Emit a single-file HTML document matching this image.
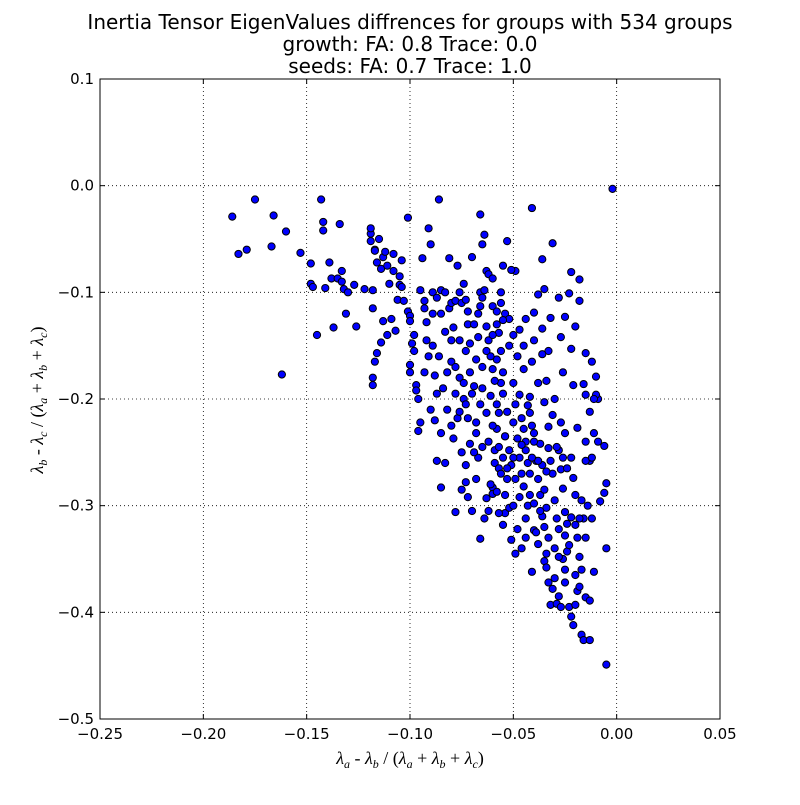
<!DOCTYPE html>
<html><head><meta charset="utf-8"><style>
body{margin:0;background:#fff}
svg{font-family:"DejaVu Sans","Liberation Sans",sans-serif}
</style></head><body>
<svg id="c" width="800" height="800">
<rect width="800" height="800" fill="#fff"/>
<text x="410" y="29" font-size="20" text-anchor="middle">Inertia Tensor EigenValues diffrences for groups with 534 groups</text>
<text x="410" y="51" font-size="20" text-anchor="middle">growth: FA: 0.8 Trace: 0.0</text>
<text x="410" y="73" font-size="20" text-anchor="middle">seeds: FA: 0.7 Trace: 1.0</text>
<g id="grid"></g>
<g id="pts"></g>
<rect x="100" y="79" width="620" height="640" fill="none" stroke="#000" stroke-width="1"/>
<g id="ticks"></g>
<text x="410" y="764" font-size="18" font-family="Liberation Serif,serif" text-anchor="middle"><tspan font-style="italic">λ</tspan><tspan font-size="12" dy="4" font-style="italic">a</tspan><tspan dy="-4"> - </tspan><tspan font-style="italic">λ</tspan><tspan font-size="12" dy="4" font-style="italic">b</tspan><tspan dy="-4"> / (</tspan><tspan font-style="italic">λ</tspan><tspan font-size="12" dy="4" font-style="italic">a</tspan><tspan dy="-4"> + </tspan><tspan font-style="italic">λ</tspan><tspan font-size="12" dy="4" font-style="italic">b</tspan><tspan dy="-4"> + </tspan><tspan font-style="italic">λ</tspan><tspan font-size="12" dy="4" font-style="italic">c</tspan><tspan dy="-4">)</tspan></text>
<text transform="translate(43,400) rotate(-90)" font-size="18" font-family="Liberation Serif,serif" text-anchor="middle"><tspan font-style="italic">λ</tspan><tspan font-size="12" dy="4" font-style="italic">b</tspan><tspan dy="-4"> - </tspan><tspan font-style="italic">λ</tspan><tspan font-size="12" dy="4" font-style="italic">c</tspan><tspan dy="-4"> / (</tspan><tspan font-style="italic">λ</tspan><tspan font-size="12" dy="4" font-style="italic">a</tspan><tspan dy="-4"> + </tspan><tspan font-style="italic">λ</tspan><tspan font-size="12" dy="4" font-style="italic">b</tspan><tspan dy="-4"> + </tspan><tspan font-style="italic">λ</tspan><tspan font-size="12" dy="4" font-style="italic">c</tspan><tspan dy="-4">)</tspan></text>
</svg>
<script>
const xTicks=[-0.25,-0.20,-0.15,-0.10,-0.05,0.00,0.05];
const xTickLabels=["\u22120.25","\u22120.20","\u22120.15","\u22120.10","\u22120.05","0.00","0.05"];
const yTicks=[0.1,0.0,-0.1,-0.2,-0.3,-0.4,-0.5];
const yTickLabels=["0.1","0.0","\u22120.1","\u22120.2","\u22120.3","\u22120.4","\u22120.5"];
const pts=[[-0.186,-0.029],[-0.183,-0.064],[-0.179,-0.060],[-0.175,-0.013],[-0.166,-0.028],[-0.167,-0.057],[-0.160,-0.043],[-0.162,-0.177],[-0.153,-0.063],[-0.148,-0.073],[-0.148,-0.092],[-0.147,-0.095],[-0.145,-0.140],[-0.143,-0.013],[-0.142,-0.034],[-0.142,-0.042],[-0.141,-0.096],[-0.139,-0.072],[-0.138,-0.087],[-0.137,-0.133],[-0.135,-0.087],[-0.134,-0.036],[-0.133,-0.090],[-0.133,-0.080],[-0.132,-0.097],[-0.131,-0.120],[-0.130,-0.100],[-0.127,-0.093],[-0.126,-0.132],[-0.122,-0.097],[-0.119,-0.045],[-0.119,-0.040],[-0.119,-0.052],[-0.117,-0.060],[-0.117,-0.061],[-0.118,-0.098],[-0.118,-0.115],[-0.118,-0.180],[-0.118,-0.187],[-0.117,-0.165],[-0.116,-0.072],[-0.116,-0.157],[-0.115,-0.050],[-0.114,-0.078],[-0.114,-0.147],[-0.113,-0.067],[-0.113,-0.127],[-0.112,-0.062],[-0.111,-0.075],[-0.110,-0.092],[-0.111,-0.140],[-0.109,-0.125],[-0.108,-0.064],[-0.108,-0.080],[-0.107,-0.136],[-0.106,-0.107],[-0.105,-0.085],[-0.105,-0.093],[-0.104,-0.070],[-0.104,-0.095],[-0.103,-0.108],[-0.101,-0.118],[-0.101,-0.030],[-0.100,-0.122],[-0.100,-0.127],[-0.100,-0.168],[-0.100,-0.175],[-0.099,-0.148],[-0.098,-0.155],[-0.098,-0.140],[-0.097,-0.187],[-0.097,-0.192],[-0.096,-0.200],[-0.096,-0.230],[-0.095,-0.222],[-0.095,-0.098],[-0.094,-0.068],[-0.093,-0.108],[-0.093,-0.115],[-0.093,-0.175],[-0.092,-0.128],[-0.092,-0.145],[-0.091,-0.040],[-0.090,-0.055],[-0.089,-0.100],[-0.089,-0.120],[-0.088,-0.178],[-0.087,-0.258],[-0.087,-0.195],[-0.086,-0.013],[-0.085,-0.098],[-0.084,-0.190],[-0.083,-0.260],[-0.083,-0.137],[-0.082,-0.210],[-0.081,-0.115],[-0.081,-0.068],[-0.080,-0.110],[-0.080,-0.165],[-0.079,-0.133],[-0.079,-0.237],[-0.078,-0.108],[-0.077,-0.075],[-0.077,-0.218],[-0.076,-0.145],[-0.076,-0.180],[-0.075,-0.250],[-0.075,-0.110],[-0.074,-0.185],[-0.074,-0.200],[-0.073,-0.107],[-0.073,-0.155],[-0.072,-0.218],[-0.072,-0.130],[-0.071,-0.148],[-0.071,-0.175],[-0.070,-0.067],[-0.069,-0.188],[-0.068,-0.222],[-0.068,-0.163],[-0.068,-0.232],[-0.067,-0.142],[-0.067,-0.120],[-0.066,-0.100],[-0.066,-0.113],[-0.065,-0.105],[-0.065,-0.055],[-0.064,-0.046],[-0.064,-0.098],[-0.063,-0.132],[-0.063,-0.080],[-0.062,-0.083],[-0.062,-0.145],[-0.061,-0.197],[-0.060,-0.172],[-0.060,-0.113],[-0.060,-0.283],[-0.059,-0.260],[-0.059,-0.248],[-0.058,-0.228],[-0.058,-0.205],[-0.057,-0.265],[-0.057,-0.138],[-0.056,-0.185],[-0.056,-0.155],[-0.055,-0.195],[-0.055,-0.075],[-0.054,-0.120],[-0.054,-0.235],[-0.054,-0.307],
[-0.066,-0.331],[-0.064,-0.312],[-0.063,-0.293],[-0.062,-0.305],[-0.061,-0.280],[-0.060,-0.289],[-0.058,-0.287],[-0.057,-0.307],[-0.056,-0.270],[-0.055,-0.318],[-0.054,-0.290],[-0.053,-0.275],[-0.052,-0.302],[-0.051,-0.332],[-0.050,-0.300],[-0.049,-0.345],[-0.048,-0.322],[-0.047,-0.292],[-0.046,-0.340],[-0.045,-0.282],[-0.044,-0.330],[-0.043,-0.300],[-0.042,-0.270],[-0.041,-0.362],[-0.040,-0.323],[-0.039,-0.325],[-0.038,-0.336],[-0.037,-0.290],[-0.036,-0.310],[-0.035,-0.352],[-0.034,-0.358],[-0.033,-0.372],[-0.032,-0.393],[-0.031,-0.378],[-0.030,-0.368],[-0.029,-0.392],[-0.028,-0.385],[-0.027,-0.395],[-0.026,-0.350],[-0.025,-0.372],[-0.024,-0.343],[-0.023,-0.395],[-0.022,-0.404],[-0.021,-0.412],[-0.020,-0.393],[-0.019,-0.380],[-0.018,-0.376],[-0.017,-0.421],[-0.016,-0.426],[-0.015,-0.386],[-0.013,-0.426],[-0.013,-0.389],[-0.011,-0.362],[-0.005,-0.449],[-0.005,-0.340],[-0.008,-0.296],[-0.006,-0.288],[-0.005,-0.279],[-0.006,-0.244],[-0.009,-0.200],[-0.010,-0.196],[-0.010,-0.179],[-0.013,-0.258],[-0.015,-0.258],[-0.015,-0.240],[-0.016,-0.312],[-0.018,-0.312],[-0.018,-0.348],[-0.019,-0.330],[-0.020,-0.290],[-0.021,-0.274],[-0.022,-0.255],[-0.023,-0.337],[-0.024,-0.317],[-0.025,-0.306],[-0.026,-0.284],[-0.027,-0.266],[-0.028,-0.248],[-0.029,-0.312],[-0.030,-0.295],[-0.031,-0.270],[-0.032,-0.258],[-0.033,-0.246],[-0.034,-0.302],[-0.035,-0.285],[-0.036,-0.262],[-0.037,-0.242],[-0.038,-0.275],[-0.039,-0.258],[-0.040,-0.240],[-0.041,-0.225],[-0.042,-0.213],[-0.043,-0.260],[-0.044,-0.248],[-0.045,-0.228],[-0.046,-0.218],[-0.047,-0.255],[-0.048,-0.237],[-0.049,-0.205],[-0.050,-0.222],[-0.051,-0.262],[-0.052,-0.248],[-0.053,-0.212],[-0.054,-0.235],
[-0.002,-0.003],[-0.041,-0.021],[-0.036,-0.069],[-0.031,-0.054],[-0.022,-0.081],[-0.018,-0.088],[-0.018,-0.108],[-0.023,-0.101],[-0.028,-0.105],[-0.035,-0.097],[-0.038,-0.102],[-0.049,-0.080],[-0.051,-0.079],[-0.053,-0.052],[-0.060,-0.087],[-0.066,-0.027],[-0.056,-0.100],[-0.025,-0.123],[-0.040,-0.119],[-0.044,-0.125],[-0.032,-0.124],[-0.036,-0.134],[-0.027,-0.142],[-0.020,-0.132],[-0.040,-0.145],[-0.047,-0.135],[-0.052,-0.125],[-0.055,-0.126],[-0.058,-0.130],[-0.015,-0.157],[-0.033,-0.155],[-0.036,-0.158],[-0.041,-0.165],[-0.045,-0.172],[-0.022,-0.153],[-0.012,-0.165],[-0.026,-0.175],[-0.034,-0.183],[-0.038,-0.185],[-0.042,-0.198],[-0.021,-0.187],[-0.011,-0.200],[-0.015,-0.196],[-0.030,-0.200],[-0.035,-0.203],[-0.043,-0.206],[-0.047,-0.196],[-0.050,-0.185],[-0.055,-0.175],[-0.058,-0.163],[-0.061,-0.160],[-0.063,-0.155],[-0.065,-0.170],[-0.052,-0.150],[-0.048,-0.160],[-0.031,-0.215],[-0.027,-0.222],[-0.025,-0.232],[-0.019,-0.227],[-0.033,-0.226],[-0.040,-0.232],[-0.044,-0.240],[-0.046,-0.243],[-0.063,-0.213],[-0.066,-0.205],[-0.062,-0.240],[-0.065,-0.245],[-0.067,-0.255],[-0.069,-0.250],[-0.071,-0.242],[-0.073,-0.262],[-0.075,-0.285],[-0.073,-0.278],[-0.072,-0.292],[-0.070,-0.305],[-0.078,-0.306],[-0.068,-0.275],[-0.085,-0.283],[-0.080,-0.225],[-0.085,-0.232],[-0.088,-0.220],[-0.090,-0.210],[-0.091,-0.160],[-0.086,-0.160],[-0.089,-0.150],[-0.080,-0.145],[-0.078,-0.170],[-0.082,-0.175],[-0.085,-0.120],[-0.087,-0.105],[-0.083,-0.100],[-0.076,-0.100],[-0.074,-0.092],[-0.072,-0.118],[-0.069,-0.130],[-0.058,-0.118],[-0.056,-0.110],[-0.050,-0.140],[-0.045,-0.150],[-0.060,-0.140],[-0.073,-0.205],[-0.070,-0.195],[-0.078,-0.195],[-0.076,-0.212],[-0.065,-0.190],[-0.059,-0.183],[-0.057,-0.213],[-0.060,-0.225],[-0.055,-0.255],[-0.057,-0.245],[-0.050,-0.255],[-0.053,-0.265],[-0.049,-0.275],[-0.046,-0.270],[-0.042,-0.290],[-0.044,-0.312],[-0.040,-0.298],[-0.037,-0.305],[-0.035,-0.320],[-0.033,-0.330],[-0.030,-0.340],[-0.028,-0.322],[-0.025,-0.328],[-0.022,-0.311],[-0.020,-0.318],[-0.017,-0.295],[-0.024,-0.265],[-0.026,-0.255],[-0.029,-0.245],[-0.034,-0.268],[-0.038,-0.258],[-0.041,-0.255],[-0.012,-0.255],[-0.011,-0.232],[-0.013,-0.212],[-0.016,-0.186],[-0.009,-0.240],[-0.014,-0.300],[-0.012,-0.312],[-0.015,-0.330],[-0.017,-0.360],[-0.020,-0.365],[-0.025,-0.360],[-0.028,-0.348],[-0.034,-0.345]];

const NS="http://www.w3.org/2000/svg";
const L=100,R=720,T=79,B=719,xmin=-0.25,xmax=0.05,ymin=-0.5,ymax=0.1;
function sx(v){return L+(v-xmin)/(xmax-xmin)*(R-L);}
function sy(v){return B-(v-ymin)/(ymax-ymin)*(B-T);}
function mk(tag,a){const e=document.createElementNS(NS,tag);for(const k in a)e.setAttribute(k,a[k]);return e;}
const grid=document.getElementById('grid'),ticks=document.getElementById('ticks'),pg=document.getElementById('pts');
xTicks.forEach((v,i)=>{const x=sx(v);
 const g=mk('line',{x1:x,x2:x,y1:T,y2:B,stroke:'#000','stroke-dasharray':'1,3','stroke-width':0.8});
 
 
 grid.appendChild(g);
 ticks.appendChild(mk('line',{x1:x,x2:x,y1:B,y2:B-5,stroke:'#000'}));
 ticks.appendChild(mk('line',{x1:x,x2:x,y1:T,y2:T+5,stroke:'#000'}));
 const t=mk('text',{x:x,y:B+20,'font-size':15,'text-anchor':'middle'});t.textContent=xTickLabels[i];
 
 
 ticks.appendChild(t);});
yTicks.forEach((v,i)=>{const y=sy(v);
 const g=mk('line',{x1:L,x2:R,y1:y,y2:y,stroke:'#000','stroke-dasharray':'1,3','stroke-width':0.8});
 
 
 grid.appendChild(g);
 ticks.appendChild(mk('line',{x1:L,x2:L+5,y1:y,y2:y,stroke:'#000'}));
 ticks.appendChild(mk('line',{x1:R,x2:R-5,y1:y,y2:y,stroke:'#000'}));
 const t=mk('text',{x:L-6,y:y+5,'font-size':15,'text-anchor':'end'});t.textContent=yTickLabels[i];
 
 
 ticks.appendChild(t);});
pts.forEach(p=>{const c=mk('circle',{cx:sx(p[0]),cy:sy(p[1]),r:3.6,fill:'#0000ff',stroke:'#000','stroke-width':1});
 
 
 pg.appendChild(c);});
</script>
</body></html>
